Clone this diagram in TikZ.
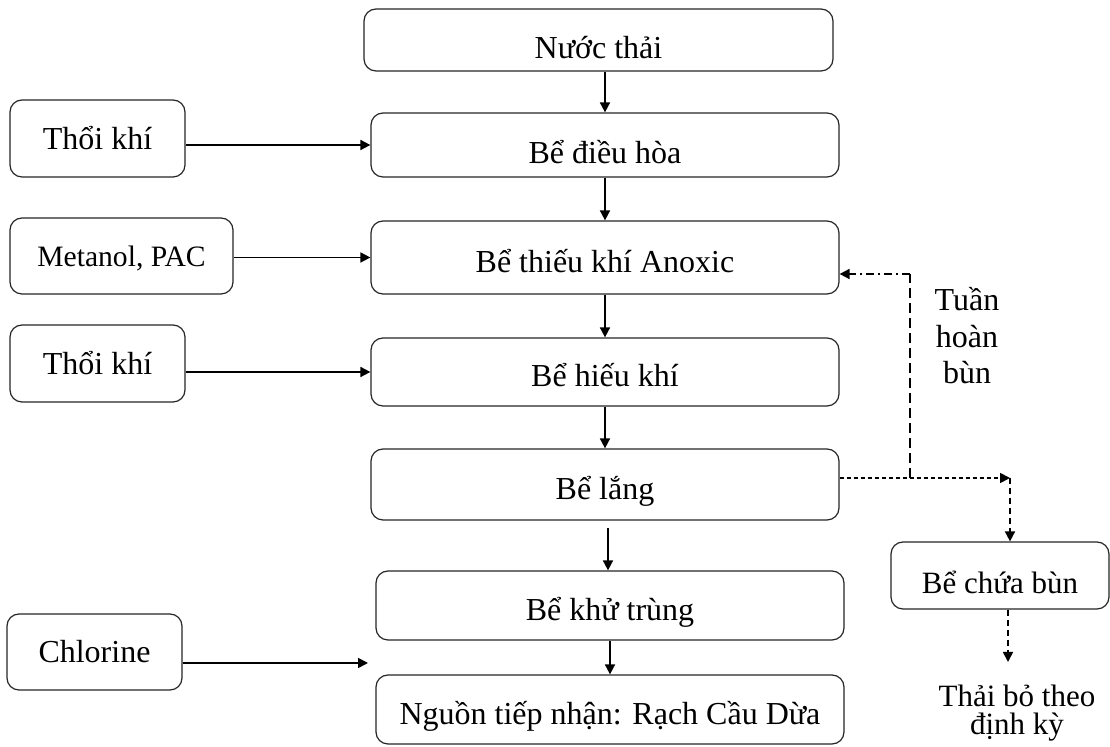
\documentclass[tikz,border=0pt]{standalone}
\usepackage{fontspec}
\setmainfont{Liberation Serif}
\usetikzlibrary{arrows.meta,calc}
\begin{document}
\begin{tikzpicture}[x=0.5pt,y=-0.5pt,
  box/.style={draw=black!85, line width=0.6pt, rounded corners=6pt, inner sep=0pt, font=\fontsize{16}{19}\selectfont},
  mainbox/.style={box, text height=16pt, text depth=1.4pt},
  topbox/.style={box, text height=20pt, text depth=1.4pt},
  sidebox/.style={box, text height=12pt, text depth=1.4pt},
  arr/.style={line width=0.85pt, -{Triangle[length=5pt,width=5pt]}},
  dashA/.style={line width=0.6pt, dash pattern=on 2pt off 1.5pt},
  dashB/.style={line width=0.6pt, dash pattern=on 5pt off 2.5pt},
  dashC/.style={line width=0.6pt, dash pattern=on 4pt off 2pt on 1pt off 2pt},
  dashD/.style={line width=0.7pt, dash pattern=on 3pt off 2pt},
  lbl/.style={inner sep=0pt, align=center}
]
\path[fill=white] (0,0) rectangle (1110,747);
\useasboundingbox (0,0) rectangle (1110,747);

% main column
\node[topbox, minimum width=234.5pt, minimum height=31pt] (nuoc) at (598.5,40) {Nước thải};
\node[topbox, minimum width=234pt, minimum height=32pt] (dieuhoa) at (605,145) {Bể điều hòa};
\node[mainbox, minimum width=234pt, minimum height=36.5pt] (anoxic) at (605,257.5) {Bể thiếu khí Anoxic};
\node[mainbox, minimum width=234pt, minimum height=34pt] (hieukhi) at (605,372) {Bể hiếu khí};
\node[mainbox, minimum width=234pt, minimum height=35.5pt] (lang) at (605,484.5) {Bể lắng};
\node[mainbox, minimum width=234pt, minimum height=34.5pt] (khutrung) at (610,605.5) {Bể khử trùng};
\node[mainbox, minimum width=234pt, minimum height=34.5pt] (nguon) at (610,709.5) {Nguồn tiếp nhận: Rạch Cầu Dừa};

% side inputs
\node[sidebox, minimum width=87.5pt, minimum height=38.5pt] (thoi1) at (97.5,138.5) {Thổi khí};
\node[sidebox, minimum width=111.5pt, minimum height=38pt, font=\fontsize{14.8}{18}\selectfont] (metanol) at (121.5,256) {Metanol, PAC};
\node[sidebox, minimum width=87.5pt, minimum height=38.5pt] (thoi2) at (97.5,363.5) {Thổi khí};
\node[sidebox, minimum width=87.5pt, minimum height=38pt] (chlorine) at (94.5,652) {Chlorine};

% sludge
\node[box, text height=19.2pt, text depth=1.4pt, minimum width=109pt, minimum height=33.5pt, font=\fontsize{15.5}{18}\selectfont] (chuabun) at (1000,575.5) {Bể chứa bùn};
\node[lbl, font=\fontsize{16}{18.25}\selectfont] (tuan) at (967,336) {Tuần\\hoàn\\bùn};
\node[lbl, font=\fontsize{15.5}{14}\selectfont] (thaibo) at (1017,713) {Thải bỏ theo\\định kỳ};

% main flow
\draw[arr] (dieuhoa.north |- nuoc.south) -- (dieuhoa.north);
\draw[arr] (dieuhoa.south) -- (anoxic.north);
\draw[arr] (anoxic.south) -- (hieukhi.north);
\draw[arr] (hieukhi.south) -- (lang.north);
\coordinate (l1) at (608,528);
\draw[arr] (l1) -- (l1 |- khutrung.north);
\draw[arr] (khutrung.south) -- (nguon.north);

% side arrows
\draw[arr] (thoi1.east |- dieuhoa.west) -- (dieuhoa.west);
\draw[arr] (metanol.east |- anoxic.west) -- (anoxic.west);
\draw[arr] (thoi2.east |- hieukhi.west) -- (hieukhi.west);
\coordinate (cl) at (368,663);
\draw[arr] (chlorine.east |- cl) -- (cl);

% sludge lines
\coordinate (c1) at (1010,478);
\coordinate (j) at (910,478);
\coordinate (c2) at (910,274);
\draw[dashA, arr] (lang.east |- c1) -- (c1);
\draw[dashD, arr] (c1) -- (c1 |- chuabun.north);
\draw[dashB] (j) -- (c2);
\draw[dashC, arr] (c2) -- (c2 -| anoxic.east);
\coordinate (t1) at (1008,662);
\draw[dashD, arr] (chuabun.south -| t1) -- (t1);
\end{tikzpicture}
\end{document}
